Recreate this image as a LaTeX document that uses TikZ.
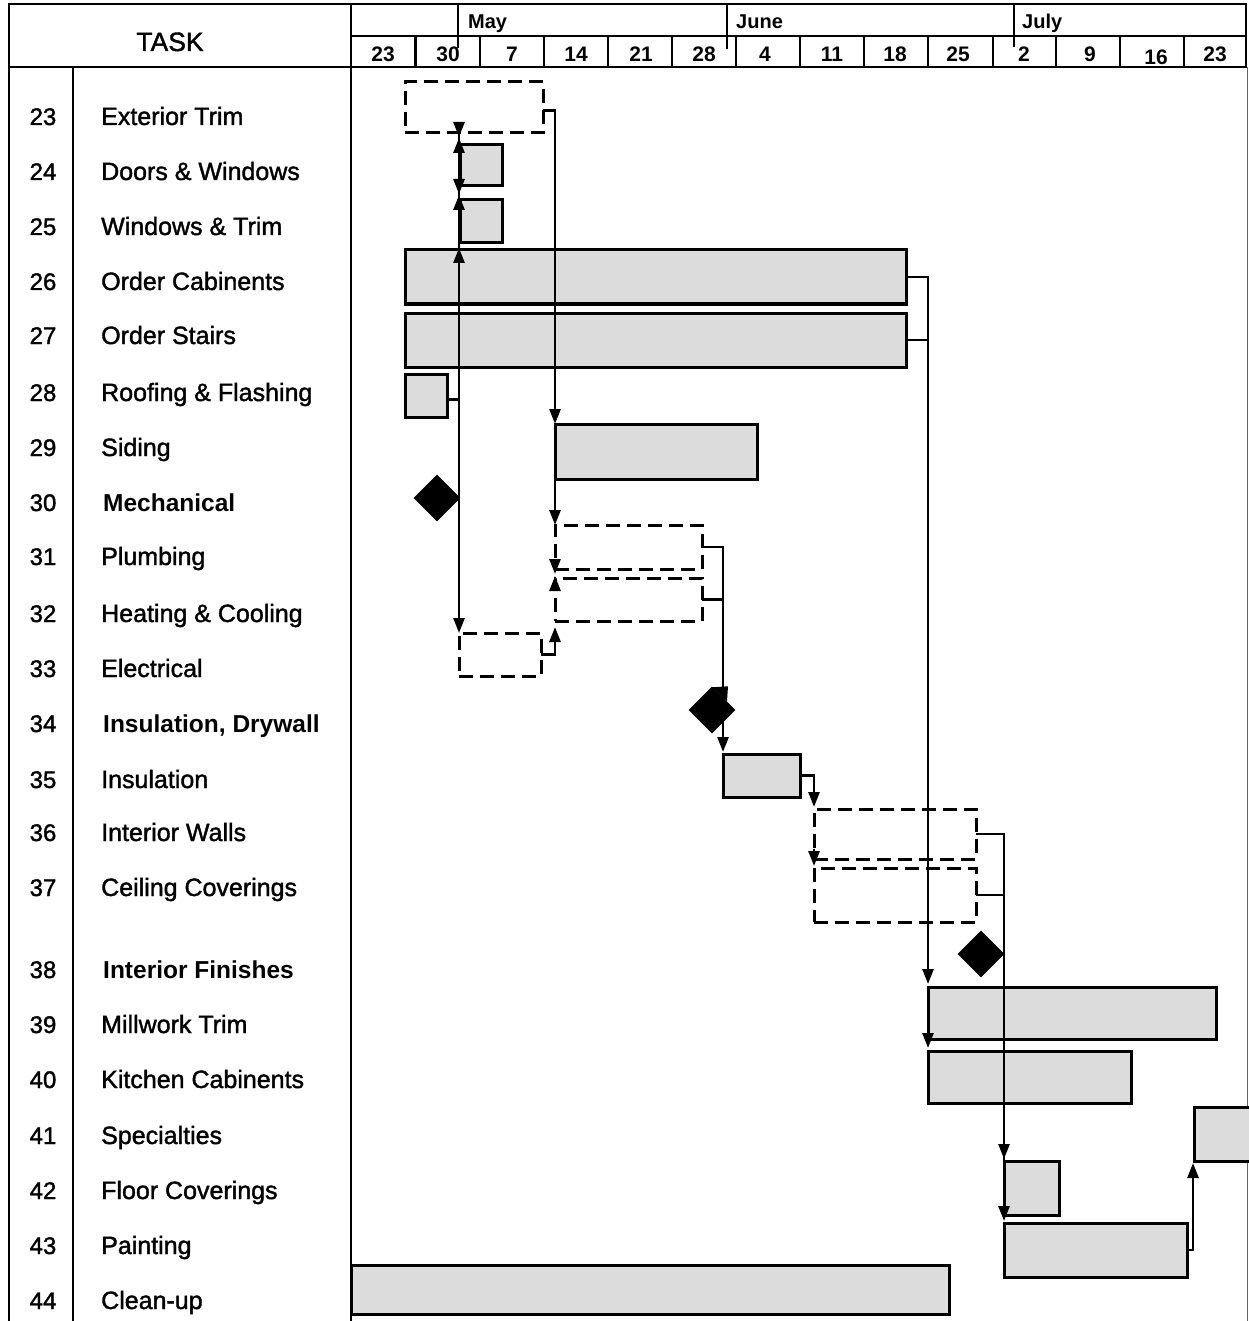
\documentclass[tikz,border=0pt]{standalone}
\usepackage{fontspec}
\setmainfont{Liberation Sans}
\newfontfamily\labelfont[FakeBold=1.5]{Liberation Sans}
\usetikzlibrary{arrows.meta,shapes.geometric,calc}
\definecolor{barfill}{HTML}{DCDCDC}

\begin{document}
\begin{tikzpicture}[x=1pt,y=-1pt,
  rule/.style={line width=2.4pt,line cap=rect},
  taskbar/.style={draw,line width=3pt,fill=barfill,inner sep=0pt,outer sep=0pt,anchor=north west},
  planbar/.style={draw,line width=3pt,dash pattern=on 14pt off 7pt,fill=none,inner sep=0pt,outer sep=0pt,anchor=north west},
  milestone/.style={diamond,fill=black,inner sep=0pt,minimum width=47pt,minimum height=47pt},
  conn/.style={line width=2.7pt},
  arr/.style={-{Triangle[length=15pt,width=11pt]}},
  tasknum/.style={font=\labelfont\fontsize{24}{28}\selectfont,anchor=base,inner sep=0pt},
  taskname/.style={font=\labelfont\fontsize{25}{28}\selectfont,anchor=base west,inner sep=0pt},
  summary/.style={font=\fontsize{24.5}{28}\selectfont\bfseries,anchor=base west,inner sep=0pt},
  monthlbl/.style={font=\fontsize{20}{24}\selectfont\bfseries,anchor=base west,inner sep=0pt},
  weeklbl/.style={font=\fontsize{21}{24}\selectfont\bfseries,anchor=base,inner sep=0pt}]

\useasboundingbox (0,0) rectangle (1248,1321);

% ---- table frame ----
\draw[rule] (9,4) -- (1246,4);
\draw[rule] (9,67) -- (1246,67);
\draw[rule] (351,36) -- (1246,36);
\draw[rule] (9,4) -- (9,1321);
\draw[rule] (73,67) -- (73,1321);
\draw[rule] (351,4) -- (351,1321);
\draw[rule] (1246,4) -- (1246,67);
\draw[line width=0.8pt,black!60] (1247,67) -- (1247,1321);

% month separators
\draw[rule] (458,4) -- (458,47);
\draw[rule] (727,4) -- (727,48);
\draw[rule] (1014,4) -- (1014,46);
% week separators
\foreach \wx in {415.5,480,544,608,672,736,800,864,928,993,1056,1120,1184}
  \draw[rule] (\wx,36) -- (\wx,67);

% ---- header text ----
\node[font=\labelfont\fontsize{26.5}{30}\selectfont,anchor=base,inner sep=0pt] (hdrtask) at (170,51) {TASK};
\node[monthlbl] (hmay) at (468,29) {May};
\node[monthlbl] (hjun) at (736,29) {June};
\node[monthlbl] (hjul) at (1022,29) {July};
\node[weeklbl] (w1) at (383,62) {23};
\node[weeklbl] (w2) at (448,62) {30};
\node[weeklbl] (w3) at (512,62) {7};
\node[weeklbl] (w4) at (576,62) {14};
\node[weeklbl] (w5) at (641,62) {21};
\node[weeklbl] (w6) at (704,62) {28};
\node[weeklbl] (w7) at (765,62) {4};
\node[weeklbl] (w8) at (832,62) {11};
\node[weeklbl] (w9) at (895,62) {18};
\node[weeklbl] (w10) at (958,62) {25};
\node[weeklbl] (w11) at (1024,62) {2};
\node[weeklbl] (w12) at (1090,62) {9};
\node[weeklbl] (w13) at (1156,65) {16};
\node[weeklbl] (w14) at (1215,62) {23};

% ---- task list ----
\foreach \id/\yy/\txt in {23/116/Exterior Trim,24/171/Doors \& Windows,25/226/Windows \& Trim,
    26/281/Order Cabinents,27/335/Order Stairs,28/392/Roofing \& Flashing,29/447/Siding,
    31/556/Plumbing,32/613/Heating \& Cooling,33/668/Electrical,35/779/Insulation,
    36/832/Interior Walls,37/887/Ceiling Coverings,39/1024/Millwork Trim,
    40/1079/Kitchen Cabinents,41/1135/Specialties,42/1190/Floor Coverings,
    43/1245/Painting,44/1300/Clean-up}{
  \node[tasknum] (n\id) at (43,\yy+9) {\id};
  \node[taskname] (t\id) at (101,\yy+9) {\txt};
}
\foreach \id/\yy/\txt in {30/502/Mechanical,34/723/{Insulation, Drywall},38/969/Interior Finishes}{
  \node[tasknum] (n\id) at (43,\yy+9) {\id};
  \node[summary] (t\id) at (103,\yy+9) {\txt};
}

% ---- bars ----
\node[planbar,minimum width=138pt,minimum height=51pt] (b23) at (405,82) {};
\node[taskbar,minimum width=42pt,minimum height=41pt] (b24) at (460,145) {};
\node[taskbar,minimum width=42pt,minimum height=43pt] (b25) at (460,200) {};
\node[taskbar,minimum width=501pt,minimum height=54pt] (b26) at (405,250) {};
\node[taskbar,minimum width=501pt,minimum height=54pt] (b27) at (405,313) {};
\node[taskbar,minimum width=42pt,minimum height=43pt] (b28) at (405,374) {};
\node[taskbar,minimum width=202pt,minimum height=55pt] (b29) at (555,424) {};
\node[milestone] (m30) at (437,498) {};
\node[planbar,minimum width=147pt,minimum height=44pt] (b31) at (555,525) {};
\node[planbar,minimum width=147pt,minimum height=43pt] (b32) at (555,578) {};
\node[planbar,minimum width=82pt,minimum height=43pt] (b33) at (459,633) {};
\node[milestone] (m34) at (712,710) {};
\fill (m34.north) ++(0,1) -- ++(16,-1) -- ++(-1,15) -- cycle;
\node[taskbar,minimum width=77pt,minimum height=43pt] (b35) at (723,754) {};
\node[planbar,minimum width=162pt,minimum height=50pt] (b36) at (814,809) {};
\node[planbar,minimum width=162pt,minimum height=54pt] (b37) at (814,868) {};
\node[milestone] (m38) at (981,954) {};
\node[taskbar,minimum width=288pt,minimum height=52pt] (b39) at (928,987) {};
\node[taskbar,minimum width=203pt,minimum height=52pt] (b40) at (928,1051) {};
\node[taskbar,minimum width=70pt,minimum height=54pt] (b41) at (1194,1107) {};
\node[taskbar,minimum width=55pt,minimum height=54pt] (b42) at (1004,1161) {};
\node[taskbar,minimum width=183pt,minimum height=54pt] (b43) at (1004,1223) {};
\node[taskbar,minimum width=598pt,minimum height=49pt] (b44) at (351,1265) {};

% ---- dependency links ----
% spine along the start of Electrical
\draw[conn,arr] (b33.north west |- b23.south) -- (b33.north west);
\draw[conn,arr] (b33.north west |- 0,122) -- (b33.north west |- 0,137);
\draw[conn,arr] (b33.north west |- 0,157) -- (b33.north west |- 0,138);
\draw[conn,arr] (b33.north west |- 0,180) -- (b33.north west |- 0,194);
\draw[conn,arr] (b33.north west |- 0,209) -- (b33.north west |- 0,195);
\draw[conn,arr] (b33.north west |- 0,266) -- (b33.north west |- 0,248);
\draw[conn] ([yshift=-4pt]b28.east) -- ([yshift=-4pt]b28.east -| b33.west);

% Exterior Trim -> Siding -> Plumbing, Heating & Cooling
\draw[conn,arr] ([yshift=-3pt]b23.east) -| (b29.north west);
\draw[conn,arr] (b29.south west) -- (b31.north west);
\draw[conn,arr] ($(b31.south west)+(0,-8)$) -- ($(b32.north west)+(0,-4)$);
\draw[conn,arr] ($(b32.north west)+(0,13)$) -- ($(b31.south west)+(0,7)$);
\draw[conn,arr] (b33.east) -| ($(b32.south west)+(0,6)$);

% Order Cabinents / Order Stairs -> Millwork Trim, Kitchen Cabinents
\draw[conn,arr,shorten >=3pt] (b26.east) -| (b39.north west);
\draw[conn] (b27.east) -- (b27.east -| b39.west);
\draw[conn,arr] ($(b39.south west)+(0,-6)$) -- ($(b40.north west)+(0,-3)$);

% Plumbing / Heating & Cooling -> Insulation
\draw[conn,arr,shorten >=2pt] (b31.east) -| (b35.north west);
\draw[conn] (b32.east) -- (b32.east -| b35.west);

% Insulation -> Interior Walls -> Ceiling Coverings
\draw[conn,arr,shorten >=2pt] (b35.east) -| (b36.north west);
\draw[conn,arr] ($(b36.south west)+(0,-10)$) -- ($(b37.north west)+(0,-2)$);

% Interior Walls / Ceiling Coverings -> Floor Coverings, Painting
\draw[conn,arr,shorten >=2pt] (b36.east) -| (b43.north west);
\draw[conn,arr,shorten >=2pt] (b36.east) -| (b42.north west);
\draw[conn] (b37.east) -- (b37.east -| b43.west);

% Painting -> Specialties
\draw[conn,arr,shorten >=2pt] (b43.east) -| ([xshift=-1pt]b41.south west);

\end{tikzpicture}
\end{document}
